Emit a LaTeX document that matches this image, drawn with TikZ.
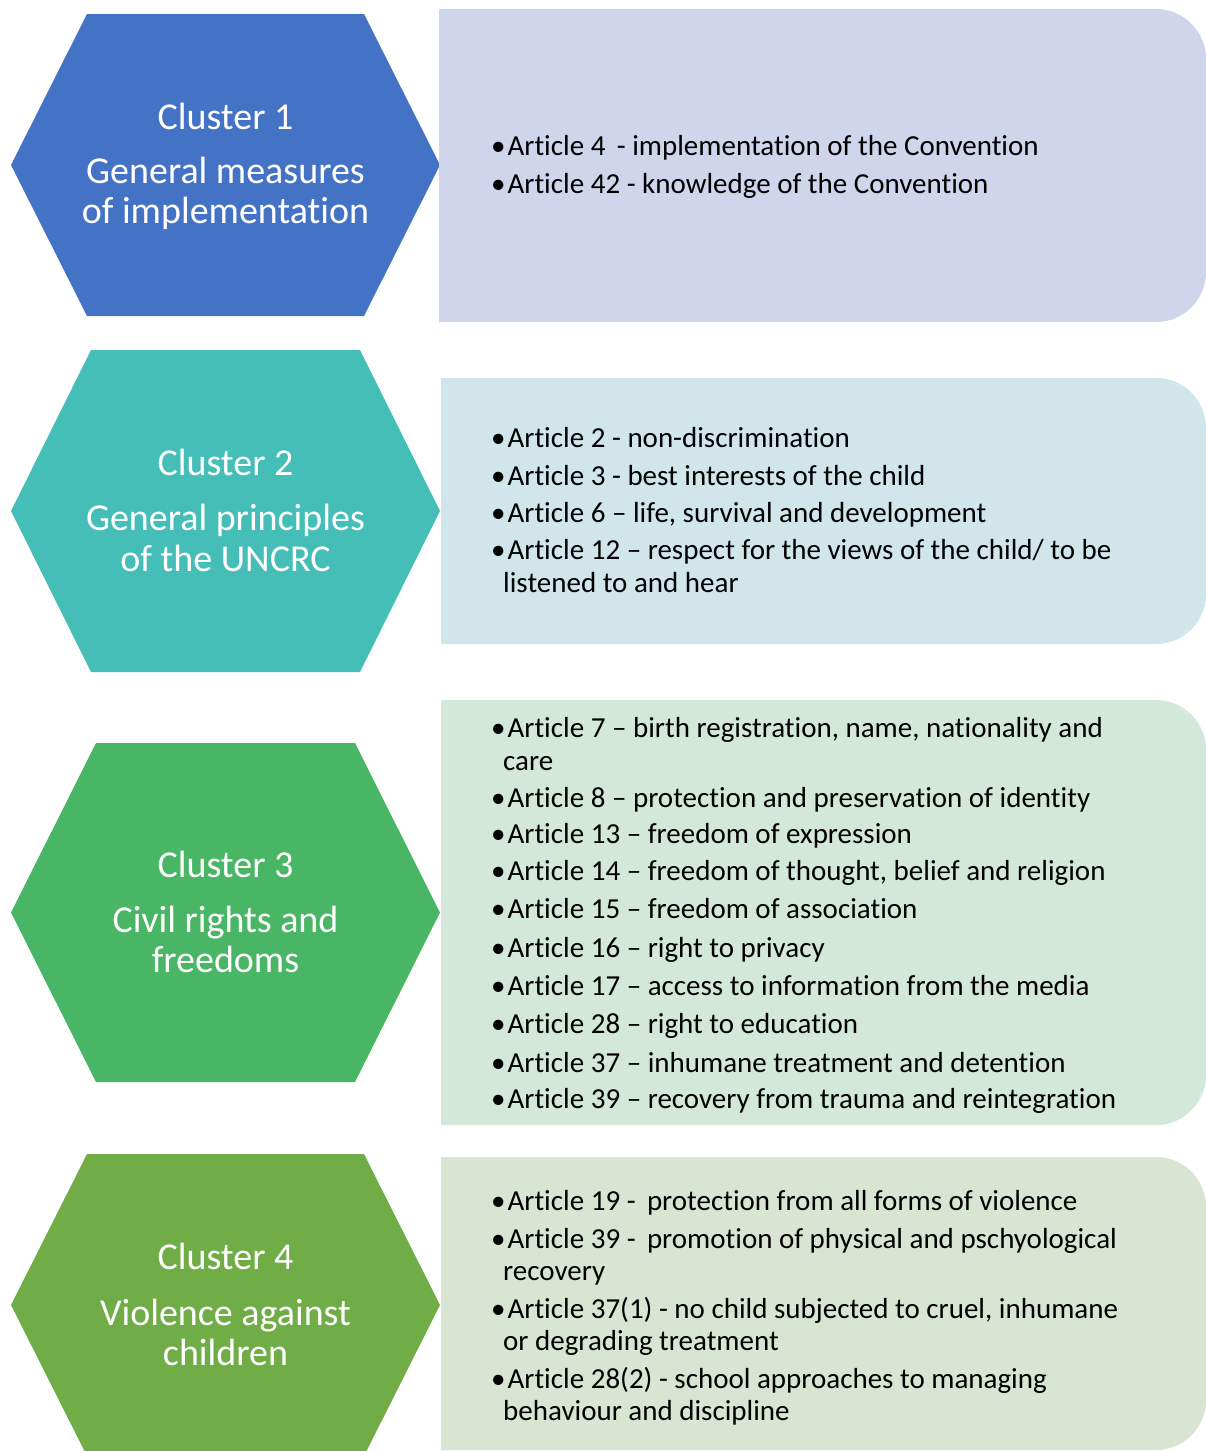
\documentclass[tikz,border=0pt]{standalone}
\usepackage{fontspec}
\setmainfont{Carlito}[Ligatures={NoCommon}]
\definecolor{hexA}{HTML}{4472C4}
\definecolor{panA}{HTML}{CFD5EA}
\definecolor{hexB}{HTML}{45BEB8}
\definecolor{panB}{HTML}{D1E6EA}
\definecolor{hexC}{HTML}{48B664}
\definecolor{panC}{HTML}{D3E7DB}
\definecolor{hexD}{HTML}{70AD47}
\definecolor{panD}{HTML}{D9E5D3}
\tikzset{
  title/.style={text=white, inner sep=0pt, anchor=base, font=\fontsize{38}{41}\selectfont},
  art/.style={text=black, inner sep=0pt, anchor=base west, font=\fontsize{29}{33}\selectfont},
}
% bullet mark that opens each article entry
\newcommand{\bul}{•\kern2pt}
% hexagon: left x, right x, top y, bottom y, top-edge inset
\newcommand{\hexshape}[6]{%
  \fill[#1] (#2,{-(#4+#5)/2}) -- (#2+#6,-#4) -- (#3-#6,-#4) -- (#3,{-(#4+#5)/2})
     -- (#3-#6,-#5) -- (#2+#6,-#5) -- cycle;}
% panel with rounded right corners: left x, top y, bottom y
\newcommand{\panelshape}[4]{%
  \fill[#1] (#2,-#3) -- (1156,-#3) arc[start angle=90,end angle=0,radius=50]
     -- (1206,{-#4+50}) arc[start angle=0,end angle=-90,radius=50] -- (#2,-#4) -- cycle;}
\begin{document}
\begin{tikzpicture}[x=1pt,y=1pt]
\useasboundingbox (0,0) rectangle (1206,-1451);
\fill[white] (0,0) rectangle (1206,-1451);
\begin{scope}
\clip (0,0) rectangle (1206,-1451);

% ---- Cluster 1 ----
\hexshape{hexA}{11}{440}{14}{316}{76}
\panelshape{panA}{439}{9}{322}
\node[title] (c1a) at (225.5,-129) {Cluster 1};
\node[title] (c1b) at (225.5,-183) {General measures};
\node[title] (c1c) at (225.5,-223) {of implementation};
\node[art] (a1a) at (491,-155) {\bul Article 4 \,- implementation of the Convention};
\node[art] (a1b) at (491,-193) {\bul Article 42 - knowledge of the Convention};

% ---- Cluster 2 ----
\hexshape{hexB}{11}{440}{350}{672}{80}
\panelshape{panB}{441}{378}{644}
\node[title] (c2a) at (225.5,-475) {Cluster 2};
\node[title] (c2b) at (225.5,-530) {General principles};
\node[title] (c2c) at (225.5,-571) {of the UNCRC};
\node[art] (a2a) at (491,-447) {\bul Article 2 - non-discrimination};
\node[art] (a2b) at (491,-485) {\bul Article 3 - best interests of the child};
\node[art] (a2c) at (491,-522) {\bul Article 6 -- life, survival and development};
\node[art] (a2d) at (491,-559) {\bul Article 12 -- respect for the views of the child/ to be};
\node[art] (a2e) at (503,-592) {listened to and hear};

% ---- Cluster 3 ----
\hexshape{hexC}{11}{440}{743}{1082}{85}
\panelshape{panC}{441}{700}{1125}
\node[title] (c3a) at (225.5,-877) {Cluster 3};
\node[title] (c3b) at (225.5,-932) {Civil rights and};
\node[title] (c3c) at (225.5,-972) {freedoms};
\node[art] (a3a) at (491,-737) {\bul Article 7 -- birth registration, name, nationality and};
\node[art] (a3b) at (503,-770) {care};
\node[art] (a3c) at (491,-807) {\bul Article 8 -- protection and preservation of identity};
\node[art] (a3d) at (491,-843) {\bul Article 13 -- freedom of expression};
\node[art] (a3e) at (491,-880) {\bul Article 14 -- freedom of thought, belief and religion};
\node[art] (a3f) at (491,-918) {\bul Article 15 -- freedom of association};
\node[art] (a3g) at (491,-957) {\bul Article 16 -- right to privacy};
\node[art] (a3h) at (491,-995) {\bul Article 17 -- access to information from the media};
\node[art] (a3i) at (491,-1033) {\bul Article 28 -- right to education};
\node[art] (a3j) at (491,-1072) {\bul Article 37 -- inhumane treatment and detention};
\node[art] (a3k) at (491,-1108) {\bul Article 39 -- recovery from trauma and reintegration};

% ---- Cluster 4 ----
\hexshape{hexD}{11}{440}{1154}{1456}{76}
\panelshape{panD}{441}{1157}{1450}
\node[title] (c4a) at (225.5,-1269) {Cluster 4};
\node[title] (c4b) at (225.5,-1325) {Violence against};
\node[title] (c4c) at (225.5,-1365) {children};
\node[art] (a4a) at (491,-1210) {\bul Article 19 - \,protection from all forms of violence};
\node[art] (a4b) at (491,-1248) {\bul Article 39 - \,promotion of physical and pschyological};
\node[art] (a4c) at (503,-1280) {recovery};
\node[art] (a4d) at (491,-1318) {\bul Article 37(1) - no child subjected to cruel, inhumane};
\node[art] (a4e) at (503,-1350) {or degrading treatment};
\node[art] (a4f) at (491,-1388) {\bul Article 28(2) - school approaches to managing};
\node[art] (a4g) at (503,-1420) {behaviour and discipline};
\end{scope}
\end{tikzpicture}
\end{document}
